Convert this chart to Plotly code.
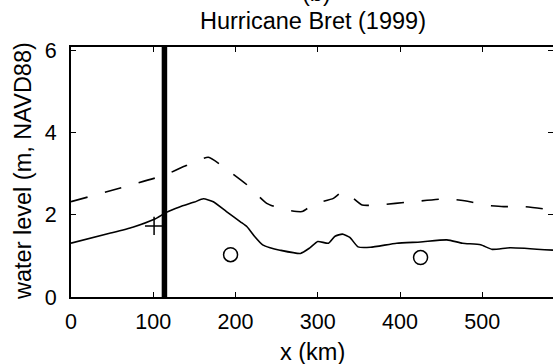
import plotly.graph_objects as go

# ---- data ----
solid_x = [0, 47, 75, 102, 116, 132, 150, 161, 173, 189, 206, 214, 223, 233, 242, 254, 279, 290, 300, 313, 321, 330, 339, 349, 364, 396, 425, 457, 476, 498, 512, 534, 586]
solid_y = [1.31, 1.55, 1.70, 1.90, 2.06, 2.19, 2.31, 2.39, 2.32, 2.08, 1.83, 1.71, 1.48, 1.27, 1.20, 1.14, 1.06, 1.19, 1.35, 1.31, 1.48, 1.53, 1.45, 1.22, 1.21, 1.31, 1.34, 1.39, 1.31, 1.27, 1.16, 1.20, 1.14]

dashed_x = [0, 114, 140, 167, 193, 214, 238, 258, 281, 295, 319, 329, 336, 354, 372, 416, 457, 485, 501, 526, 550, 586]
dashed_y = [2.32, 2.97, 3.20, 3.40, 3.05, 2.73, 2.28, 2.13, 2.08, 2.26, 2.40, 2.55, 2.52, 2.24, 2.24, 2.32, 2.39, 2.32, 2.24, 2.20, 2.20, 2.12]

plus_x = [101]
plus_y = [1.73]

circle_x = [194, 425]
circle_y = [1.03, 0.96]

barrier_x = 113.6

x_ticks = [0, 100, 200, 300, 400, 500]
y_ticks = [0, 2, 4, 6]
x_range = [0, 586]
y_range = [0, 6.085]

title_top = "(b)"
title_main = "Hurricane Bret (1999)"
x_label = "x (km)"
y_label = "water level (m, NAVD88)"

FONT = "Liberation Sans, Arial, Helvetica, sans-serif"

fig = go.Figure()

fig.add_trace(go.Scatter(x=[barrier_x, barrier_x], y=y_range, mode="lines",
                         line=dict(color="black", width=5.5), hoverinfo="skip"))
fig.add_trace(go.Scatter(x=dashed_x, y=dashed_y, mode="lines",
                         line=dict(color="black", width=1.6, dash="17px,18px",
                                   shape="spline", smoothing=0.5)))
fig.add_trace(go.Scatter(x=solid_x, y=solid_y, mode="lines",
                         line=dict(color="black", width=1.6, shape="spline", smoothing=0.5)))
fig.add_trace(go.Scatter(x=plus_x, y=plus_y, mode="markers",
                         marker=dict(symbol="cross-thin-open", size=13, color="black",
                                     line=dict(color="black", width=1.5))))
fig.add_trace(go.Scatter(x=circle_x, y=circle_y, mode="markers",
                         marker=dict(symbol="circle-open", size=14, color="black",
                                     line=dict(color="black", width=1.5))))
# helper trace to show the right-hand tick marks
fig.add_trace(go.Scatter(x=[None], y=[None], yaxis="y2", showlegend=False))

fig.update_layout(
    width=553, height=364,
    margin=dict(l=71, r=0, t=47, b=67),
    paper_bgcolor="white", plot_bgcolor="white",
    showlegend=False,
    font=dict(family=FONT, color="black", size=21.5),
    xaxis=dict(range=x_range, tickvals=x_ticks, ticks="inside", ticklen=5, tickwidth=1.2,
               tickcolor="black", showline=True, linewidth=2, linecolor="black",
               mirror="ticks", showgrid=False, zeroline=False,
               tickfont=dict(size=21.5), ticklabelstandoff=4),
    yaxis=dict(range=y_range, tickvals=y_ticks, ticks="inside", ticklen=5, tickwidth=1.2,
               tickcolor="black", showline=True, linewidth=2, linecolor="black",
               showgrid=False, zeroline=False, tickfont=dict(size=21.5),
               ticklabelstandoff=8),
    yaxis2=dict(range=y_range, tickvals=y_ticks, overlaying="y", side="right",
                ticks="inside", ticklen=5, tickwidth=1.2, tickcolor="black",
                showline=False, showticklabels=False, showgrid=False, zeroline=False),
    annotations=[
        dict(text=title_top, x=0.51, y=1.216, xref="paper", yref="paper",
             showarrow=False, font=dict(size=23.5), xanchor="center", yanchor="middle"),
        dict(text=title_main, x=0.502, y=1.104, xref="paper", yref="paper",
             showarrow=False, font=dict(size=23.5), xanchor="center", yanchor="middle"),
        dict(text=x_label, x=0.502, y=-0.22, xref="paper", yref="paper",
             showarrow=False, font=dict(size=23.5), xanchor="center", yanchor="middle"),
        dict(text=y_label, x=-0.0996, y=0.504, xref="paper", yref="paper", textangle=-90,
             showarrow=False, font=dict(size=23.5), xanchor="center", yanchor="middle"),
    ],
)

fig.write_html("out.html")
